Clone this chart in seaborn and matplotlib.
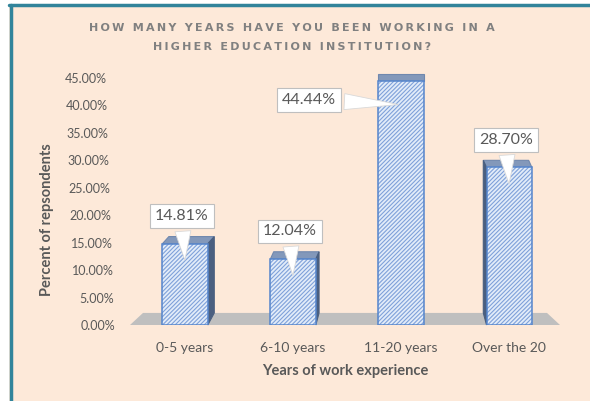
import pandas as pd
import matplotlib.pyplot as plt
import seaborn as sns
from matplotlib.patches import Polygon, Rectangle
from matplotlib.lines import Line2D
from matplotlib.transforms import blended_transform_factory, ScaledTranslation

# 데이터
CATEGORIES = ["0-5 years", "6-10 years", "11-20 years", "Over the 20"]
PERCENTS = [14.81, 12.04, 44.44, 28.70]
Y_TICKS = [0, 5, 10, 15, 20, 25, 30, 35, 40, 45]
TITLE_LINES = ["HOW MANY YEARS HAVE YOU BEEN WORKING IN A",
               "HIGHER EDUCATION INSTITUTION?"]
X_LABEL = "Years of work experience"
Y_LABEL = "Percent of repsondents"

BG = "#FDE9D9"
TEAL = "#31849B"
TXT = "#595959"
EDGE = "#5585CC"
HATCH = "#7FA1D9"

sns.set_theme(style="white")
plt.rcParams["font.family"] = ["Lato", "DejaVu Sans"]
plt.rcParams["hatch.linewidth"] = 0.8

df = pd.DataFrame({"years": CATEGORIES, "pct": PERCENTS})

fig = plt.figure(figsize=(5.9, 4.01), dpi=100, facecolor=BG)
ax = fig.add_axes([130 / 590, 1 - 325 / 401, 430 / 590, 247 / 401])
ax.set_facecolor("none")

sns.barplot(data=df, x="years", y="pct", width=0.42, color="#E2ECF9",
            saturation=1, ax=ax, zorder=3)

ax.set_xlim(-0.51, 3.47)
ax.set_ylim(0, 45)
ax.set_yticks(Y_TICKS)
ax.set_yticklabels([f"{t:.2f}%" for t in Y_TICKS])
for s in ax.spines.values():
    s.set_visible(False)
ax.tick_params(axis="y", length=0, pad=17, labelsize=9, labelcolor=TXT)
ax.tick_params(axis="x", length=0, pad=12, labelsize=10, labelcolor=TXT)

# 원근감: 아래쪽 눈금 레이블일수록 오른쪽으로
for t, lab in zip(Y_TICKS, ax.get_yticklabels()):
    shift = (Y_TICKS[-1] - t) / Y_TICKS[-1] * 0.09
    lab.set_transform(lab.get_transform() + ScaledTranslation(shift, 0, fig.dpi_scale_trans))

# 바닥 (회색 평행사변형)
floor = 2.2
trans = blended_transform_factory(ax.transAxes, ax.transData)
ax.add_patch(Polygon([(0, 0), (1, 0), (1 - 13 / 430, floor), (13 / 430, floor)],
                     closed=True, transform=trans, fc="#BFBFBF", ec="none",
                     zorder=1, clip_on=False))

# 빗금 면 + 외곽선 + 3D 윗면/옆면
top_depth = 1.3
for i, p in enumerate(ax.patches[:len(PERCENTS)]):
    p.set_hatch("////////")
    p.set_edgecolor(HATCH)
    p.set_linewidth(0)
    x0, w, v = p.get_x(), p.get_width(), p.get_height()
    ax.add_patch(Rectangle((x0, 0), w, v, fc="none", ec=EDGE, lw=1.1, zorder=4))
    dx = (2 - i) * 0.03
    top = [(x0, v), (x0 + w, v), (x0 + w + dx, v + top_depth), (x0 + dx, v + top_depth)]
    ax.add_patch(Polygon(top, closed=True, fc="#8398BA", ec="#7088AE",
                         lw=0.8, zorder=2, clip_on=False))
    if dx != 0:
        xs = x0 + w if dx > 0 else x0
        side = [(xs, 0), (xs, v), (xs + dx, v + top_depth), (xs + dx, floor)]
        ax.add_patch(Polygon(side, closed=True, fc="#4A5F80", ec="#4A5F80",
                             lw=0.8, zorder=2, clip_on=False))

# 데이터 레이블 (말풍선)
for i, v in enumerate(PERCENTS):
    if i == 2:
        xy, xt = (i, v - 4.3), (i - 0.85, v - 3.4)
    else:
        xy, xt = (i, v - 3.5), (i - 0.03, v + 5.0)
    ax.annotate(f"{v:.2f}%", xy=xy, xytext=xt, ha="center", va="center",
                fontsize=11.5, color=TXT, zorder=6,
                bbox=dict(boxstyle="square,pad=0.3", fc="white", ec="#BFBFBF", lw=0.8),
                arrowprops=dict(arrowstyle="wedge,tail_width=1.0,shrink_factor=0.5",
                                fc="white", ec="#D9D9D9", lw=0.6))

ax.set_xlabel(X_LABEL, fontsize=10.5, fontweight="bold", color=TXT)
ax.set_ylabel(Y_LABEL, fontsize=10.5, fontweight="bold", color=TXT)
ax.xaxis.set_label_coords(0.5, -0.158)
ax.yaxis.set_label_coords(-0.177, 0.425)

# 제목 (자간 넓게)
for line, ypx in zip(TITLE_LINES, [28, 47]):
    fig.text(292 / 590, 1 - ypx / 401, "\u2009".join(line), ha="center", va="center",
             fontsize=8, fontweight="bold", color="#808080", family=["DejaVu Sans"])

# 테두리
fig.patches.append(Rectangle((0, 1 - 4 / 401), 1, 4 / 401, transform=fig.transFigure,
                             fc="white", ec="none", zorder=0))
fig.patches.append(Rectangle((0, 0), 9 / 590, 1, transform=fig.transFigure,
                             fc="white", ec="none", zorder=0))
fig.lines.append(Line2D([10.5 / 590, 10.5 / 590], [0, 1 - 4.5 / 401],
                        transform=fig.transFigure, color=TEAL, lw=2.5))
fig.lines.append(Line2D([9 / 590, 1], [1 - 4.5 / 401, 1 - 4.5 / 401],
                        transform=fig.transFigure, color=TEAL, lw=2.5))

fig.savefig("out.png", dpi=100, facecolor=BG)
